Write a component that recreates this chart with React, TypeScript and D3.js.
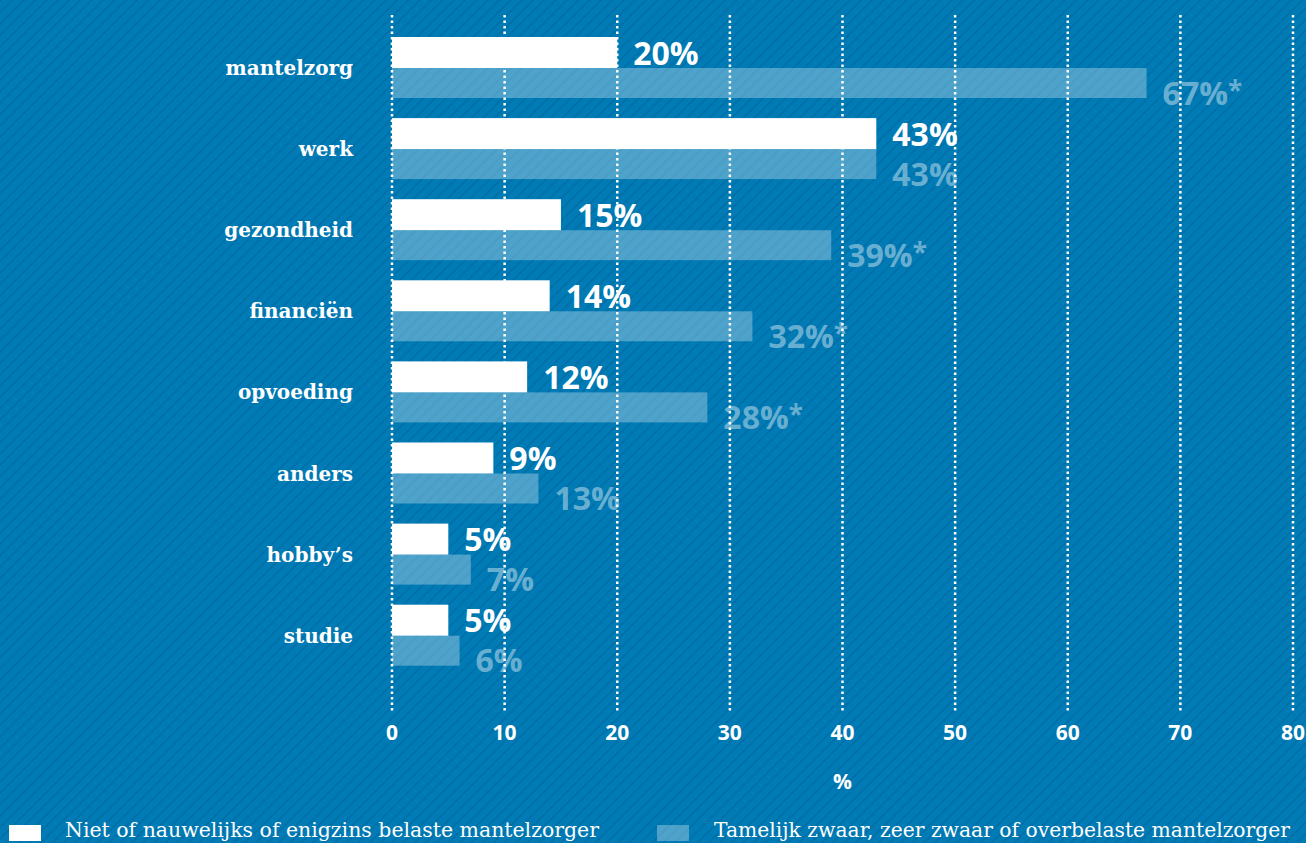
import React from "react";
import * as d3 from "d3";

const categories = ["mantelzorg", "werk", "gezondheid", "financiën", "opvoeding", "anders", "hobby’s", "studie"];
const lightValues = [20, 43, 15, 14, 12, 9, 5, 5];
const heavyValues = [67, 43, 39, 32, 28, 13, 7, 6];
const heavySignificant = [true, false, true, true, true, false, false, false];
const xTicks = [0, 10, 20, 30, 40, 50, 60, 70, 80];
const legendLabels = [
  "Niet of nauwelijks of enigzins belaste mantelzorger",
  "Tamelijk zwaar, zeer zwaar of overbelaste mantelzorger",
];
const axisTitle = "%";

const W = 1306;
const H = 843;
const BG = "#007bb5";
const SANS = "'Open Sans', 'DejaVu Sans', sans-serif";
const SERIF = "'DejaVu Serif', serif";

export default function App() {
  const x = d3.scaleLinear().domain([0, 80]).range([392, 1293]);
  const y = d3.scaleBand<string>().domain(categories).range([27.5, 27.5 + 81.1 * categories.length]).padding(0);

  return (
    <svg width={W} height={H} style={{ position: "absolute", left: 0, top: 0, display: "block" }}>
      <defs>
        <pattern id="stripes" patternUnits="userSpaceOnUse" width={8} height={8} patternTransform="rotate(45)">
          <rect width={8} height={8} fill={BG} />
          <line x1={1} y1={0} x2={1} y2={8} stroke="#00649a" strokeWidth={1.4} strokeOpacity={0.65} />
        </pattern>
      </defs>
      <rect x={0} y={0} width={W} height={H} fill="url(#stripes)" />

      {/* heavy (light-blue) bars */}
      {categories.map((c, i) => (
        <rect key={"h" + c} x={x(0)} y={(y(c) as number) + 40.5} width={x(heavyValues[i]) - x(0)} height={30} fill="#ffffff" fillOpacity={0.3} />
      ))}

      {/* gridlines */}
      {xTicks.map((t) => (
        <line key={"g" + t} x1={x(t)} x2={x(t)} y1={15} y2={712} stroke="#ffffff" strokeWidth={2.5} strokeDasharray="2.5 3" />
      ))}

      {/* light (white) bars */}
      {categories.map((c, i) => (
        <rect key={"l" + c} x={x(0)} y={(y(c) as number) + 9.5} width={x(lightValues[i]) - x(0)} height={31} fill="#ffffff" />
      ))}

      {/* value labels */}
      {categories.map((c, i) => (
        <text key={"lv" + c} x={x(lightValues[i]) + 16} y={(y(c) as number) + 37} fill="#ffffff" fontFamily={SANS} fontWeight={700} fontSize={32}>
          {lightValues[i] + "%"}
        </text>
      ))}
      {categories.map((c, i) => (
        <text key={"hv" + c} x={x(heavyValues[i]) + 16} y={(y(c) as number) + 77} fill="#ffffff" fillOpacity={0.42} fontFamily={SANS} fontWeight={700} fontSize={32}>
          {heavyValues[i] + "%"}
          {heavySignificant[i] ? <tspan fontSize={26} dy={-5}>*</tspan> : null}
        </text>
      ))}

      {/* category labels */}
      {categories.map((c) => (
        <text key={"c" + c} x={353} y={(y(c) as number) + 47.5} textAnchor="end" fill="#ffffff" fontFamily={SERIF} fontWeight={700} fontSize={20}>
          {c}
        </text>
      ))}

      {/* x tick labels */}
      {xTicks.map((t) => (
        <text key={"t" + t} x={x(t)} y={740} textAnchor="middle" fill="#ffffff" fontFamily={SANS} fontWeight={700} fontSize={21}>
          {t}
        </text>
      ))}
      <text x={x(40)} y={789} textAnchor="middle" fill="#ffffff" fontFamily={SANS} fontWeight={700} fontSize={21}>
        {axisTitle}
      </text>

      {/* legend */}
      <rect x={9} y={825} width={32} height={16} fill="#ffffff" />
      <text x={65} y={837} fill="#ffffff" fontFamily={SERIF} fontSize={20} textLength={534} lengthAdjust="spacingAndGlyphs">
        {legendLabels[0]}
      </text>
      <rect x={657} y={825} width={32} height={16} fill="#ffffff" fillOpacity={0.3} />
      <text x={714} y={837} fill="#ffffff" fontFamily={SERIF} fontSize={20} textLength={576} lengthAdjust="spacingAndGlyphs">
        {legendLabels[1]}
      </text>
    </svg>
  );
}
